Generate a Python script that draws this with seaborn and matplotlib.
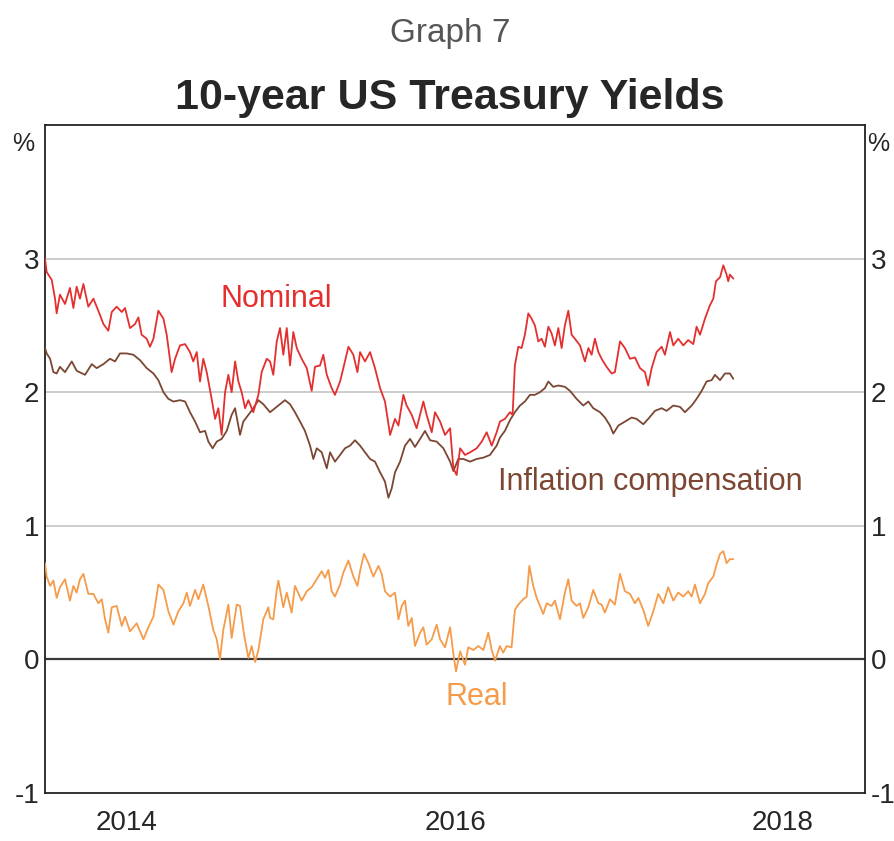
import matplotlib
matplotlib.use("Agg")
import matplotlib.pyplot as plt
import seaborn as sns
import pandas as pd

# ---- data (time = years since 1 Jan 2014) ----
nominal_t = [0.000, 0.010, 0.041, 0.061, 0.071, 0.091, 0.122, 0.152, 0.173, 0.193, 0.213, 0.234, 0.264, 0.295,
             0.325, 0.356, 0.386, 0.407, 0.437, 0.468, 0.488, 0.518, 0.549, 0.569, 0.589, 0.620, 0.640, 0.661,
             0.691, 0.722, 0.742, 0.772, 0.793, 0.823, 0.854, 0.884, 0.904, 0.925, 0.945, 0.965, 0.986, 1.016,
             1.037, 1.057, 1.077, 1.098, 1.118, 1.138, 1.159, 1.179, 1.199, 1.220, 1.240, 1.270, 1.301, 1.321,
             1.352, 1.372, 1.392, 1.413, 1.433, 1.453, 1.474, 1.494, 1.514, 1.535, 1.565, 1.596, 1.626, 1.646,
             1.677, 1.697, 1.718, 1.748, 1.768, 1.799, 1.819, 1.850, 1.880, 1.905, 1.921, 1.951, 1.982, 2.012,
             2.043, 2.073, 2.104, 2.134, 2.155, 2.185, 2.205, 2.236, 2.266, 2.307, 2.327, 2.358, 2.378, 2.409,
             2.439, 2.470, 2.490, 2.510, 2.531, 2.561, 2.592, 2.632, 2.663, 2.693, 2.724, 2.754, 2.774, 2.804,
             2.835, 2.851, 2.865, 2.886, 2.906, 2.926, 2.947, 2.967, 2.987, 3.008, 3.028, 3.048, 3.069, 3.089,
             3.109, 3.130, 3.150, 3.170, 3.191, 3.211, 3.231, 3.262, 3.292, 3.313, 3.333, 3.353, 3.374, 3.394,
             3.424, 3.455, 3.475, 3.506, 3.536, 3.567, 3.597, 3.628, 3.658, 3.678, 3.699, 3.729, 3.760, 3.780,
             3.811, 3.831, 3.861, 3.892, 3.922, 3.953, 3.973, 3.994, 4.024, 4.054, 4.075, 4.091, 4.116, 4.136,
             4.156, 4.166, 4.176, 4.197]
nominal_v = [3.00, 2.90, 2.84, 2.70, 2.59, 2.73, 2.66, 2.78, 2.63, 2.79, 2.70, 2.81, 2.64, 2.70,
             2.61, 2.51, 2.46, 2.60, 2.64, 2.60, 2.63, 2.48, 2.51, 2.56, 2.43, 2.40, 2.34, 2.40,
             2.61, 2.55, 2.43, 2.15, 2.25, 2.35, 2.36, 2.30, 2.23, 2.30, 2.08, 2.25, 2.15, 1.95,
             1.80, 1.88, 1.68, 2.00, 2.13, 2.00, 2.23, 2.08, 2.00, 1.88, 1.94, 1.85, 1.98, 2.15,
             2.25, 2.23, 2.13, 2.38, 2.48, 2.28, 2.48, 2.20, 2.45, 2.33, 2.25, 2.18, 2.01, 2.19,
             2.20, 2.28, 2.13, 2.03, 1.98, 2.08, 2.18, 2.34, 2.28, 2.15, 2.30, 2.23, 2.30, 2.18,
             2.03, 1.93, 1.68, 1.80, 1.75, 1.98, 1.90, 1.83, 1.73, 1.93, 1.83, 1.70, 1.85, 1.78,
             1.68, 1.73, 1.43, 1.38, 1.58, 1.53, 1.55, 1.58, 1.63, 1.70, 1.60, 1.70, 1.78, 1.80,
             1.85, 1.83, 2.20, 2.34, 2.33, 2.43, 2.59, 2.55, 2.50, 2.38, 2.40, 2.34, 2.49, 2.44,
             2.35, 2.48, 2.33, 2.50, 2.61, 2.43, 2.40, 2.35, 2.23, 2.33, 2.28, 2.40, 2.30, 2.25,
             2.19, 2.14, 2.15, 2.38, 2.33, 2.25, 2.26, 2.18, 2.15, 2.05, 2.18, 2.30, 2.34, 2.28,
             2.45, 2.35, 2.40, 2.35, 2.39, 2.36, 2.49, 2.43, 2.55, 2.65, 2.70, 2.83, 2.86, 2.95,
             2.88, 2.83, 2.88, 2.85]

inflation_t = [0.000, 0.010, 0.031, 0.051, 0.071, 0.091, 0.122, 0.163, 0.193, 0.244, 0.285, 0.315, 0.356, 0.396,
               0.427, 0.457, 0.498, 0.539, 0.579, 0.620, 0.661, 0.691, 0.722, 0.752, 0.783, 0.823, 0.854, 0.884,
               0.915, 0.945, 0.976, 0.996, 1.022, 1.047, 1.077, 1.108, 1.138, 1.159, 1.189, 1.209, 1.240, 1.270,
               1.301, 1.331, 1.372, 1.402, 1.433, 1.463, 1.494, 1.524, 1.555, 1.585, 1.616, 1.636, 1.657, 1.687,
               1.718, 1.738, 1.768, 1.799, 1.829, 1.860, 1.890, 1.921, 1.951, 1.982, 2.012, 2.043, 2.073, 2.094,
               2.114, 2.134, 2.165, 2.195, 2.226, 2.256, 2.287, 2.317, 2.348, 2.388, 2.429, 2.470, 2.490, 2.520,
               2.551, 2.592, 2.632, 2.673, 2.713, 2.754, 2.774, 2.804, 2.835, 2.865, 2.896, 2.926, 2.957, 2.987,
               3.018, 3.048, 3.069, 3.099, 3.130, 3.170, 3.201, 3.241, 3.282, 3.313, 3.343, 3.384, 3.414, 3.445,
               3.465, 3.496, 3.536, 3.577, 3.607, 3.648, 3.678, 3.719, 3.760, 3.790, 3.831, 3.872, 3.902, 3.943,
               3.973, 4.004, 4.034, 4.065, 4.085, 4.116, 4.146, 4.176, 4.197]
inflation_v = [2.33, 2.29, 2.25, 2.15, 2.14, 2.19, 2.15, 2.23, 2.16, 2.13, 2.21, 2.18, 2.21, 2.25,
               2.23, 2.29, 2.29, 2.28, 2.24, 2.18, 2.14, 2.09, 2.00, 1.95, 1.93, 1.94, 1.93, 1.85,
               1.78, 1.70, 1.71, 1.63, 1.58, 1.63, 1.65, 1.71, 1.83, 1.88, 1.68, 1.78, 1.83, 1.88,
               1.94, 1.91, 1.85, 1.88, 1.91, 1.94, 1.91, 1.85, 1.78, 1.71, 1.60, 1.50, 1.58, 1.55,
               1.43, 1.55, 1.48, 1.53, 1.58, 1.60, 1.64, 1.60, 1.55, 1.50, 1.48, 1.40, 1.33, 1.21,
               1.28, 1.40, 1.48, 1.60, 1.65, 1.59, 1.65, 1.71, 1.64, 1.63, 1.58, 1.48, 1.41, 1.50,
               1.50, 1.48, 1.50, 1.51, 1.53, 1.60, 1.66, 1.71, 1.79, 1.85, 1.90, 1.93, 1.98, 1.98,
               2.00, 2.03, 2.08, 2.04, 2.05, 2.04, 2.01, 1.95, 1.90, 1.93, 1.88, 1.85, 1.81, 1.75,
               1.69, 1.75, 1.78, 1.81, 1.80, 1.76, 1.80, 1.86, 1.88, 1.86, 1.90, 1.89, 1.85, 1.90,
               1.95, 2.01, 2.08, 2.09, 2.13, 2.09, 2.14, 2.14, 2.10]

real_t = [0.000, 0.010, 0.031, 0.051, 0.071, 0.091, 0.122, 0.152, 0.173, 0.193, 0.213, 0.234, 0.264, 0.295,
          0.325, 0.346, 0.366, 0.386, 0.407, 0.437, 0.468, 0.488, 0.518, 0.559, 0.600, 0.630, 0.661, 0.691,
          0.722, 0.752, 0.783, 0.813, 0.844, 0.864, 0.884, 0.915, 0.935, 0.965, 0.996, 1.026, 1.047, 1.067,
          1.087, 1.118, 1.138, 1.169, 1.189, 1.213, 1.240, 1.260, 1.281, 1.301, 1.331, 1.362, 1.372, 1.392,
          1.413, 1.423, 1.453, 1.474, 1.504, 1.524, 1.565, 1.596, 1.626, 1.657, 1.687, 1.707, 1.728, 1.748,
          1.768, 1.799, 1.819, 1.850, 1.880, 1.905, 1.921, 1.945, 1.972, 2.002, 2.033, 2.053, 2.073, 2.104,
          2.134, 2.155, 2.175, 2.195, 2.215, 2.236, 2.256, 2.287, 2.307, 2.327, 2.358, 2.388, 2.409, 2.439,
          2.470, 2.490, 2.506, 2.531, 2.561, 2.581, 2.612, 2.642, 2.673, 2.703, 2.724, 2.744, 2.774, 2.794,
          2.815, 2.845, 2.865, 2.886, 2.916, 2.937, 2.953, 2.977, 2.998, 3.018, 3.038, 3.059, 3.089, 3.109,
          3.140, 3.170, 3.191, 3.211, 3.241, 3.262, 3.282, 3.313, 3.343, 3.374, 3.394, 3.414, 3.445, 3.475,
          3.506, 3.536, 3.567, 3.597, 3.618, 3.648, 3.678, 3.709, 3.739, 3.770, 3.800, 3.831, 3.861, 3.892,
          3.922, 3.943, 3.963, 3.994, 4.024, 4.044, 4.075, 4.095, 4.116, 4.136, 4.156, 4.176, 4.197]
real_v = [0.72, 0.62, 0.55, 0.59, 0.46, 0.54, 0.60, 0.44, 0.55, 0.50, 0.60, 0.64, 0.49, 0.49,
          0.42, 0.45, 0.30, 0.20, 0.39, 0.40, 0.25, 0.32, 0.21, 0.27, 0.15, 0.24, 0.32, 0.56,
          0.52, 0.36, 0.26, 0.36, 0.42, 0.50, 0.40, 0.52, 0.45, 0.56, 0.40, 0.22, 0.15, 0.00,
          0.22, 0.41, 0.16, 0.41, 0.40, 0.19, 0.01, 0.10, -0.02, 0.07, 0.30, 0.39, 0.31, 0.30,
          0.52, 0.59, 0.39, 0.50, 0.35, 0.55, 0.44, 0.51, 0.54, 0.60, 0.66, 0.61, 0.67, 0.51,
          0.47, 0.56, 0.65, 0.74, 0.62, 0.55, 0.66, 0.79, 0.72, 0.62, 0.70, 0.64, 0.51, 0.47,
          0.50, 0.30, 0.40, 0.44, 0.25, 0.31, 0.10, 0.20, 0.24, 0.11, 0.15, 0.26, 0.15, 0.09,
          0.24, 0.04, -0.09, 0.06, -0.04, 0.09, 0.07, 0.10, 0.07, 0.20, 0.07, -0.01, 0.10, 0.05,
          0.10, 0.09, 0.37, 0.41, 0.45, 0.47, 0.70, 0.55, 0.46, 0.40, 0.34, 0.42, 0.40, 0.44,
          0.30, 0.50, 0.60, 0.44, 0.40, 0.42, 0.31, 0.39, 0.52, 0.42, 0.41, 0.35, 0.45, 0.41,
          0.64, 0.51, 0.49, 0.42, 0.46, 0.37, 0.25, 0.36, 0.49, 0.42, 0.54, 0.44, 0.50, 0.47,
          0.51, 0.47, 0.56, 0.42, 0.49, 0.57, 0.62, 0.71, 0.79, 0.81, 0.72, 0.75, 0.75]

start_year = 2014
year_labels = ["2014", "2016", "2018"]
y_ticks = [-1, 0, 1, 2, 3]

# ---- style ----
sns.set_style("white")
plt.rcParams["font.family"] = ["Liberation Sans", "DejaVu Sans"]

c_nom = "#e3302f"
c_inf = "#7b4733"
c_real = "#f59b4a"

fig = plt.figure(figsize=(8.95, 8.41), dpi=100)
ax = fig.add_axes([0.0503, 0.0571, 0.9162, 0.7943])

df_n = pd.DataFrame({"t": [start_year + t for t in nominal_t], "v": nominal_v})
df_i = pd.DataFrame({"t": [start_year + t for t in inflation_t], "v": inflation_v})
df_r = pd.DataFrame({"t": [start_year + t for t in real_t], "v": real_v})

for y in [1, 2, 3]:
    ax.axhline(y, color="#c8c8c8", lw=1.3, zorder=0)
ax.axhline(0, color="#3a3a3a", lw=1.6, zorder=1)

sns.lineplot(data=df_i, x="t", y="v", color=c_inf, lw=1.3, ax=ax, zorder=3)
sns.lineplot(data=df_n, x="t", y="v", color=c_nom, lw=1.3, ax=ax, zorder=4)
sns.lineplot(data=df_r, x="t", y="v", color=c_real, lw=1.3, ax=ax, zorder=3)

ax.set_xlim(2014, 2019)
ax.set_ylim(-1, 4)
ax.set_xlabel("")
ax.set_ylabel("")

for s in ax.spines.values():
    s.set_color("#222222")
    s.set_linewidth(1.3)

ax.set_yticks(y_ticks)
ax.set_yticklabels([str(v) for v in y_ticks])
ax.tick_params(axis="y", which="both", length=0, labelleft=True, labelright=True,
               labelsize=20, pad=4)

ax.set_xticks([2015, 2016, 2017, 2018])
ax.set_xticklabels([])
ax.set_xticks([int(l) + 0.5 for l in year_labels], minor=True)
ax.set_xticklabels(year_labels, minor=True)
ax.tick_params(axis="x", which="major", direction="in", length=10, width=1.2, color="#222222")
ax.tick_params(axis="x", which="minor", length=0, labelsize=20, pad=12)

ax.text(-0.027, 0.972, "%", transform=ax.transAxes, ha="center", va="center", fontsize=18)
ax.text(1.016, 0.972, "%", transform=ax.transAxes, ha="center", va="center", fontsize=18)

ax.text(2015.41, 2.70, "Nominal", color=c_nom, fontsize=22, ha="center", va="center")
ax.text(2017.69, 1.33, "Inflation compensation", color=c_inf, fontsize=22, ha="center", va="center")
ax.text(2016.63, -0.28, "Real", color=c_real, fontsize=22, ha="center", va="center")

fig.text(0.503, 0.960, "Graph 7", ha="center", va="center", fontsize=24, color="#555555")
fig.text(0.503, 0.884, "10-year US Treasury Yields", ha="center", va="center", fontsize=31,
         fontweight="bold")

fig.savefig("out.png", dpi=100)
